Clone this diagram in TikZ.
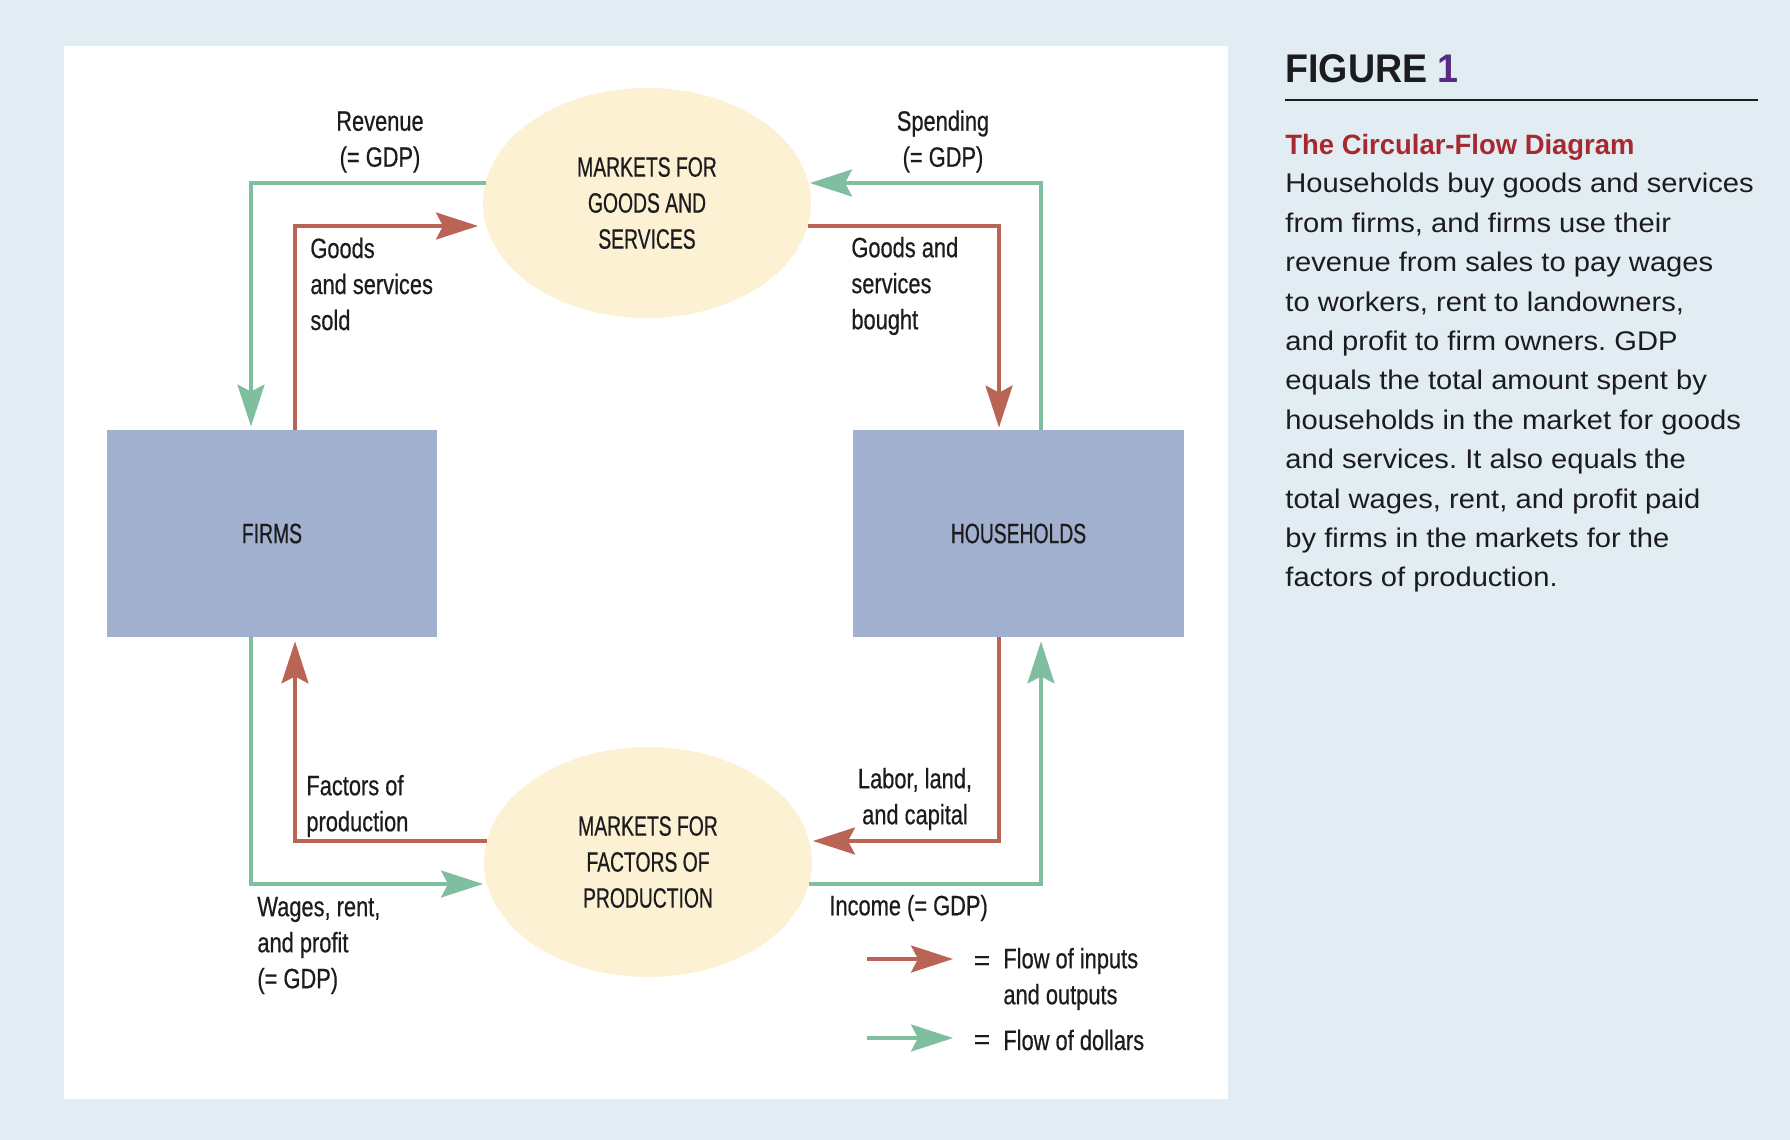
\documentclass[tikz,border=0pt]{standalone}
\usepackage{fontspec}
\usetikzlibrary{shapes.geometric,arrows.meta,calc}
\setmainfont{Liberation Sans}
\newfontfamily\dlow[FakeStretch=0.78,FakeBold=0.5]{Liberation Sans}
\newfontfamily\dcaps[FakeStretch=0.69,FakeBold=0.5]{Liberation Sans}
\newfontfamily\deq[FakeBold=0.5]{Liberation Sans}
\newfontfamily\bodyf[FakeStretch=1.08]{Liberation Sans}
\newfontfamily\figf[FakeStretch=0.94]{Liberation Sans}
\newfontfamily\titf[FakeStretch=0.98]{Liberation Sans}
\definecolor{bgc}{RGB}{226,237,243}
\definecolor{redc}{RGB}{185,100,85}
\definecolor{greenc}{RGB}{128,190,160}
\definecolor{boxc}{RGB}{161,176,206}
\definecolor{ellc}{RGB}{253,241,212}
\definecolor{titred}{RGB}{168,40,48}
\definecolor{purp}{RGB}{88,44,131}
\definecolor{ink}{RGB}{28,28,30}
\frenchspacing
\begin{document}
\begin{tikzpicture}[x=0.5pt,y=-0.5pt,
  tipst/.style={-{Stealth[length=21pt,width=13.5pt,inset=3.5pt]}},
  flow/.style={draw=redc,line width=1.7pt,tipst},
  dollar/.style={draw=greenc,line width=1.7pt,tipst},
  dtext/.style={font=\dlow\fontsize{14}{18}\selectfont,text=ink,inner sep=0pt},
  ctext/.style={font=\dcaps\fontsize{14}{18}\selectfont,text=ink,align=center},
  sector/.style={rectangle,fill=boxc,minimum width=165pt,minimum height=103.5pt,inner sep=0pt,ctext},
  market/.style={ellipse,fill=ellc,minimum width=164pt,minimum height=115pt,inner sep=0pt,ctext}]
\fill[bgc] (0,0) rectangle (1790,1140);
\useasboundingbox (0,0) rectangle (1790,1140);
\fill[white] (64,46) rectangle (1228,1099);
% nodes
\node[sector] (firms) at (272,533.5) {FIRMS};
\node[sector,minimum width=165.5pt] (hh) at (1018.5,533.5) {HOUSEHOLDS};
\node[market] (gs) at (647,203) {MARKETS FOR\\GOODS AND\\SERVICES};
\node[market] (fp) at (648,862) {MARKETS FOR\\FACTORS OF\\PRODUCTION};
% connectors
\draw[dollar,shorten >=1.5pt] ($(gs.center)+(-161,-20)$) -| ($(firms.north)+(-21,0)$);
\draw[flow] ($(firms.north)+(23,0)$) |- ($(gs.center)+(-169,23)$);
\draw[flow,shorten >=1pt] ($(gs.center)+(161,23)$) -| ($(hh.north)+(-19.5,0)$);
\draw[dollar] ($(hh.north)+(22.5,0)$) |- ($(gs.center)+(163,-20)$);
\draw[dollar] ($(firms.south)+(-21,0)$) |- ($(fp.center)+(-165,22)$);
\draw[flow,shorten >=2pt] ($(fp.center)+(-161,-21)$) -| ($(firms.south)+(23,0)$);
\draw[flow] ($(hh.south)+(-19.5,0)$) |- ($(fp.center)+(165,-21)$);
\draw[dollar,shorten >=2pt] ($(fp.center)+(161,22)$) -| ($(hh.south)+(22.5,0)$);
% labels
\node[dtext,align=center] (lrev) at (380,142) {Revenue\\(= GDP)};
\node[dtext,align=center] (lspend) at (943,141.5) {Spending\\(= GDP)};
\node[dtext,align=left,anchor=west] (lsold) at (310,284) {Goods\\and services\\sold};
\node[dtext,align=left,anchor=west] (lbought) at (851,286) {Goods and\\services\\bought};
\node[dtext,align=left,anchor=west] (lfact) at (306,806) {Factors of\\production};
\node[dtext,align=center] (llab) at (915,799) {Labor, land,\\and capital};
\node[dtext,align=left,anchor=west] (lwage) at (257,945.5) {Wages, rent,\\and profit\\(= GDP)};
\node[dtext,anchor=west] (linc) at (829,908) {Income (= GDP)};
% legend
\coordinate (lra) at (867,959);
\coordinate (lrb) at (953,959);
\coordinate (lga) at (867,1038);
\coordinate (lgb) at (953,1038);
\draw[flow] (lra) -- (lrb);
\draw[dollar] (lga) -- (lgb);
\node[inner sep=0pt,text=ink,font=\deq\fontsize{14}{18}\selectfont] (eq1) at (982,963) {=};
\node[inner sep=0pt,text=ink,font=\deq\fontsize{14}{18}\selectfont] (eq2) at (982,1042) {=};
\node[dtext,align=left,anchor=west] (lin) at (1003,979) {Flow of inputs\\and outputs};
\node[dtext,anchor=west] (ldol) at (1003,1040) {Flow of dollars};
% right column
\node[anchor=base west,inner sep=0pt,font=\figf\bfseries\fontsize{20}{24}\selectfont,text=ink] (fig) at (1285,83) {FIGURE \textcolor{purp}{1}};
\coordinate (rl) at (1285,100);
\coordinate (rr) at (1758,100);
\draw[ink,line width=0.75pt] (rl) -- (rr);
\node[anchor=base west,inner sep=0pt,font=\titf\bfseries\fontsize{14}{18}\selectfont,text=titred] (tit) at (1285,154) {The Circular-Flow Diagram};
\node[anchor=north west,inner sep=0pt,align=left,font=\bodyf\fontsize{13.5}{19.7}\selectfont,text=ink] (body) at (1285,173) {Households buy goods and services\\from firms, and firms use their\\revenue from sales to pay wages\\to workers, rent to landowners,\\and profit to firm owners. GDP\\equals the total amount spent by\\households in the market for goods\\and services. It also equals the\\total wages, rent, and profit paid\\by firms in the markets for the\\factors of production.};
\end{tikzpicture}
\end{document}
